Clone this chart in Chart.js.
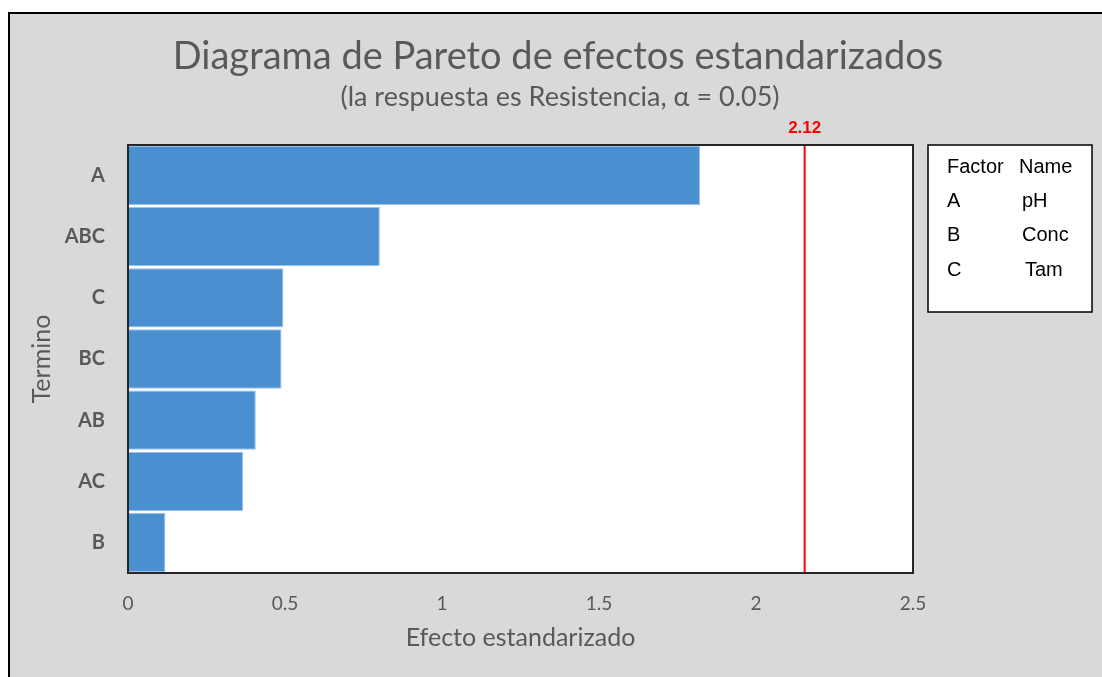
<!DOCTYPE html>
<html>
<head>
<meta charset="utf-8">
<title>Diagrama de Pareto de efectos estandarizados</title>
<script src="https://cdn.jsdelivr.net/npm/chart.js@4/dist/chart.umd.min.js"></script>
<style>
  html, body { margin: 0; padding: 0; background: #ffffff; }
  canvas { display: block; }
</style>
</head>
<body>
<canvas id="pareto" width="1102" height="677"></canvas>
<script>
// chart data
const terms = ['A', 'ABC', 'C', 'BC', 'AB', 'AC', 'B'];
const effects = [1.822, 0.802, 0.495, 0.489, 0.407, 0.367, 0.119];
const xTicks = [0, 0.5, 1, 1.5, 2, 2.5];
const refLine = 2.155;
const refLabel = '2.12';
const factorLetters = ['A', 'B', 'C'];
const factorNames = ['pH', 'Conc', 'Tam'];

const titleText = 'Diagrama de Pareto de efectos estandarizados';
const subtitleText = '(la respuesta es Resistencia, \u03B1 = 0.05)';

const grayText = '#595959';

// background, frame, titles, red line and the factor box
const decor = {
  id: 'decor',
  beforeDraw(chart) {
    const ctx = chart.ctx;
    ctx.save();
    ctx.fillStyle = '#ffffff';
    ctx.fillRect(0, 0, chart.width, chart.height);
    ctx.fillStyle = '#d9d9d9';
    ctx.fillRect(8, 12, chart.width - 8, chart.height - 12);
    ctx.strokeStyle = '#000000';
    ctx.lineWidth = 2;
    ctx.beginPath();
    ctx.moveTo(9, chart.height);
    ctx.lineTo(9, 13);
    ctx.lineTo(chart.width, 13);
    ctx.stroke();

    const a = chart.chartArea;
    ctx.fillStyle = '#ffffff';
    ctx.fillRect(a.left, a.top, a.right - a.left, a.bottom - a.top);

    ctx.fillStyle = grayText;
    ctx.textAlign = 'center';
    ctx.textBaseline = 'middle';
    ctx.font = '38px Lato';
    ctx.fillText(titleText, 558, 57);
    ctx.font = '27px Lato';
    ctx.fillText(subtitleText, 560, 97);
    ctx.restore();
  },
  afterDatasetsDraw(chart) {
    const ctx = chart.ctx;
    const a = chart.chartArea;
    const x = chart.scales.x.getPixelForValue(refLine);
    ctx.save();
    ctx.strokeStyle = '#ff0000';
    ctx.lineWidth = 2;
    ctx.beginPath();
    ctx.moveTo(x, a.top);
    ctx.lineTo(x, a.bottom);
    ctx.stroke();
    ctx.fillStyle = '#ff0000';
    ctx.font = 'bold 17px "Liberation Sans", Arial';
    ctx.textAlign = 'center';
    ctx.textBaseline = 'middle';
    ctx.fillText(refLabel, x, 128);

    // plot border
    ctx.strokeStyle = '#262626';
    ctx.lineWidth = 2;
    ctx.strokeRect(a.left, a.top, a.right - a.left, a.bottom - a.top);

    // factor / name box
    ctx.fillStyle = '#ffffff';
    ctx.fillRect(928, 145, 164, 167);
    ctx.strokeStyle = '#000000';
    ctx.lineWidth = 1.5;
    ctx.strokeRect(928, 145, 164, 167);
    ctx.fillStyle = '#000000';
    ctx.font = '20px "Liberation Sans", Arial';
    ctx.textAlign = 'left';
    ctx.fillText('Factor', 947, 167);
    ctx.fillText('Name', 1019, 167);
    const nameX = [1022, 1022, 1025];
    factorLetters.forEach((f, i) => {
      const y = 201 + i * 34.5;
      ctx.fillText(f, 947, y);
      ctx.fillText(factorNames[i], nameX[i], y);
    });
    ctx.restore();
  }
};

new Chart(document.getElementById('pareto'), {
  type: 'bar',
  data: {
    labels: terms,
    datasets: [{
      label: 'Efecto',
      data: effects,
      backgroundColor: '#4a8fd0',
      borderColor: '#9cc1e8',
      borderWidth: 1,
      barPercentage: 0.97,
      categoryPercentage: 1
    }]
  },
  options: {
    indexAxis: 'y',
    responsive: false,
    animation: false,
    layout: { padding: { left: 8, top: 145, right: 189, bottom: 0 } },
    plugins: {
      legend: { display: false },
      tooltip: { enabled: false }
    },
    scales: {
      x: {
        min: 0,
        max: 2.5,
        afterFit(scale) { scale.height = 104; },
        afterBuildTicks(scale) { scale.ticks = xTicks.map(v => ({ value: v })); },
        grid: { display: false, drawTicks: false },
        border: { display: false },
        ticks: {
          padding: 19,
          color: grayText,
          font: { family: 'Lato', size: 19 },
          callback: v => String(v)
        },
        title: {
          display: true,
          text: 'Efecto estandarizado',
          color: grayText,
          font: { family: 'Lato', size: 25 },
          padding: { top: 0, bottom: 24 }
        }
      },
      y: {
        afterFit(scale) { scale.width = 120; },
        grid: { display: false, drawTicks: false },
        border: { display: false },
        ticks: {
          padding: 23,
          color: grayText,
          font: { family: 'Lato', size: 20, weight: 'bold' }
        },
        title: {
          display: true,
          text: 'Termino',
          color: grayText,
          font: { family: 'Lato', size: 25 },
          padding: { top: 19, bottom: 0 }
        }
      }
    }
  },
  plugins: [decor]
});
</script>
</body>
</html>
